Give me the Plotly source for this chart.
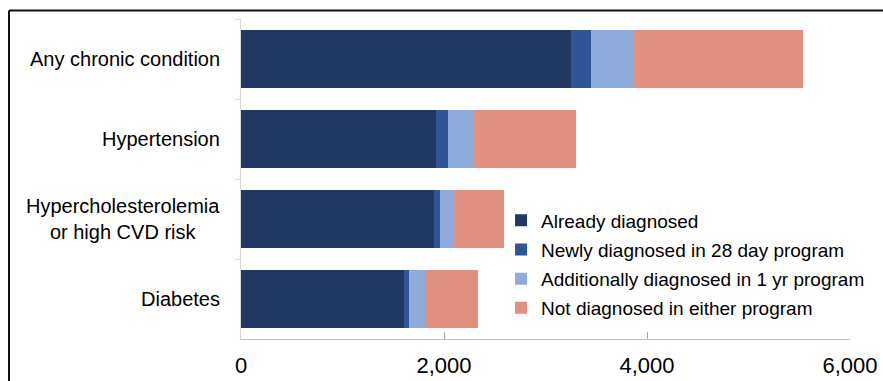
import plotly.graph_objects as go

# Conditions, top to bottom
categories = [
    "Any chronic condition",
    "Hypertension",
    "Hypercholesterolemia<br>or high CVD risk",
    "Diabetes",
]

# Number of people in each diagnosis status
already_diagnosed = [3250, 1920, 1900, 1610]
newly_28_day = [195, 115, 65, 50]
additionally_1_yr = [430, 260, 135, 150]
not_diagnosed = [1660, 1005, 490, 520]

series_names = [
    "Already diagnosed",
    "Newly diagnosed in 28 day program",
    "Additionally diagnosed in 1 yr program",
    "Not diagnosed in either program",
]
series_values = [already_diagnosed, newly_28_day, additionally_1_yr, not_diagnosed]
series_colors = ["#213862", "#2f5597", "#8faadc", "#e09080"]

x_ticks = [0, 2000, 4000, 6000]
x_tick_labels = ["0", "2,000", "4,000", "6,000"]

FONT = "Liberation Sans, Arial, sans-serif"

fig = go.Figure()
for i, (name, vals, col) in enumerate(zip(series_names, series_values, series_colors)):
    fig.add_trace(go.Bar(
        y=categories,
        x=vals,
        name=name,
        legendgroup=f"g{i}",
        orientation="h",
        marker=dict(color=col, line=dict(width=0)),
    ))

# Category labels, centred block anchored right of the axis
for cat in categories:
    fig.add_annotation(
        x=0, xref="paper", xanchor="right", xshift=-19,
        y=cat, yref="y", yanchor="middle",
        text=cat, showarrow=False, align="center",
        font=dict(family=FONT, size=20, color="#000000"),
    )

# Frame lines along the top and left
L, R, T, B = 241, 850, 19, 339
W, H = 883, 381
def px(xp):
    return (xp - L) / (R - L)
def py(yp):
    return (B - yp) / (B - T)

fig.add_shape(type="line", xref="paper", yref="paper",
              x0=px(9), x1=px(883), y0=py(10.5), y1=py(10.5),
              line=dict(color="#111111", width=2))
fig.add_shape(type="line", xref="paper", yref="paper",
              x0=px(9), x1=px(9), y0=py(10.5), y1=py(381),
              line=dict(color="#111111", width=2))

fig.update_layout(
    width=W, height=H,
    margin=dict(l=L, r=W - R, t=T, b=H - B, pad=0, autoexpand=False),
    barmode="stack",
    bargap=0.275,
    plot_bgcolor="white",
    paper_bgcolor="white",
    font=dict(family=FONT, color="#000000"),
    showlegend=True,
    legend=dict(
        x=0.427, y=0.43, xanchor="left", yanchor="top",
        traceorder="grouped",
        tracegroupgap=1.5,
        font=dict(family=FONT, size=19, color="#000000"),
        bgcolor="rgba(255,255,255,0)",
        itemwidth=30,
    ),
    xaxis=dict(
        range=[0, 6000],
        tickvals=x_ticks,
        ticktext=x_tick_labels,
        ticks="inside", ticklen=7, tickcolor="#a6a6a6",
        showline=True, linecolor="#bfbfbf", linewidth=1,
        showgrid=False, zeroline=False,
        tickfont=dict(family=FONT, size=22, color="#000000"),
        ticklabelstandoff=7,
        automargin=False,
    ),
    yaxis=dict(
        type="category",
        categoryorder="array",
        categoryarray=categories,
        autorange="reversed",
        showticklabels=False,
        ticks="outside", ticklen=5, tickcolor="#d9d9d9",
        tickson="boundaries",
        showline=True, linecolor="#d9d9d9", linewidth=1,
        showgrid=False, zeroline=False,
        automargin=False,
    ),
)

fig.write_html("out.html")
